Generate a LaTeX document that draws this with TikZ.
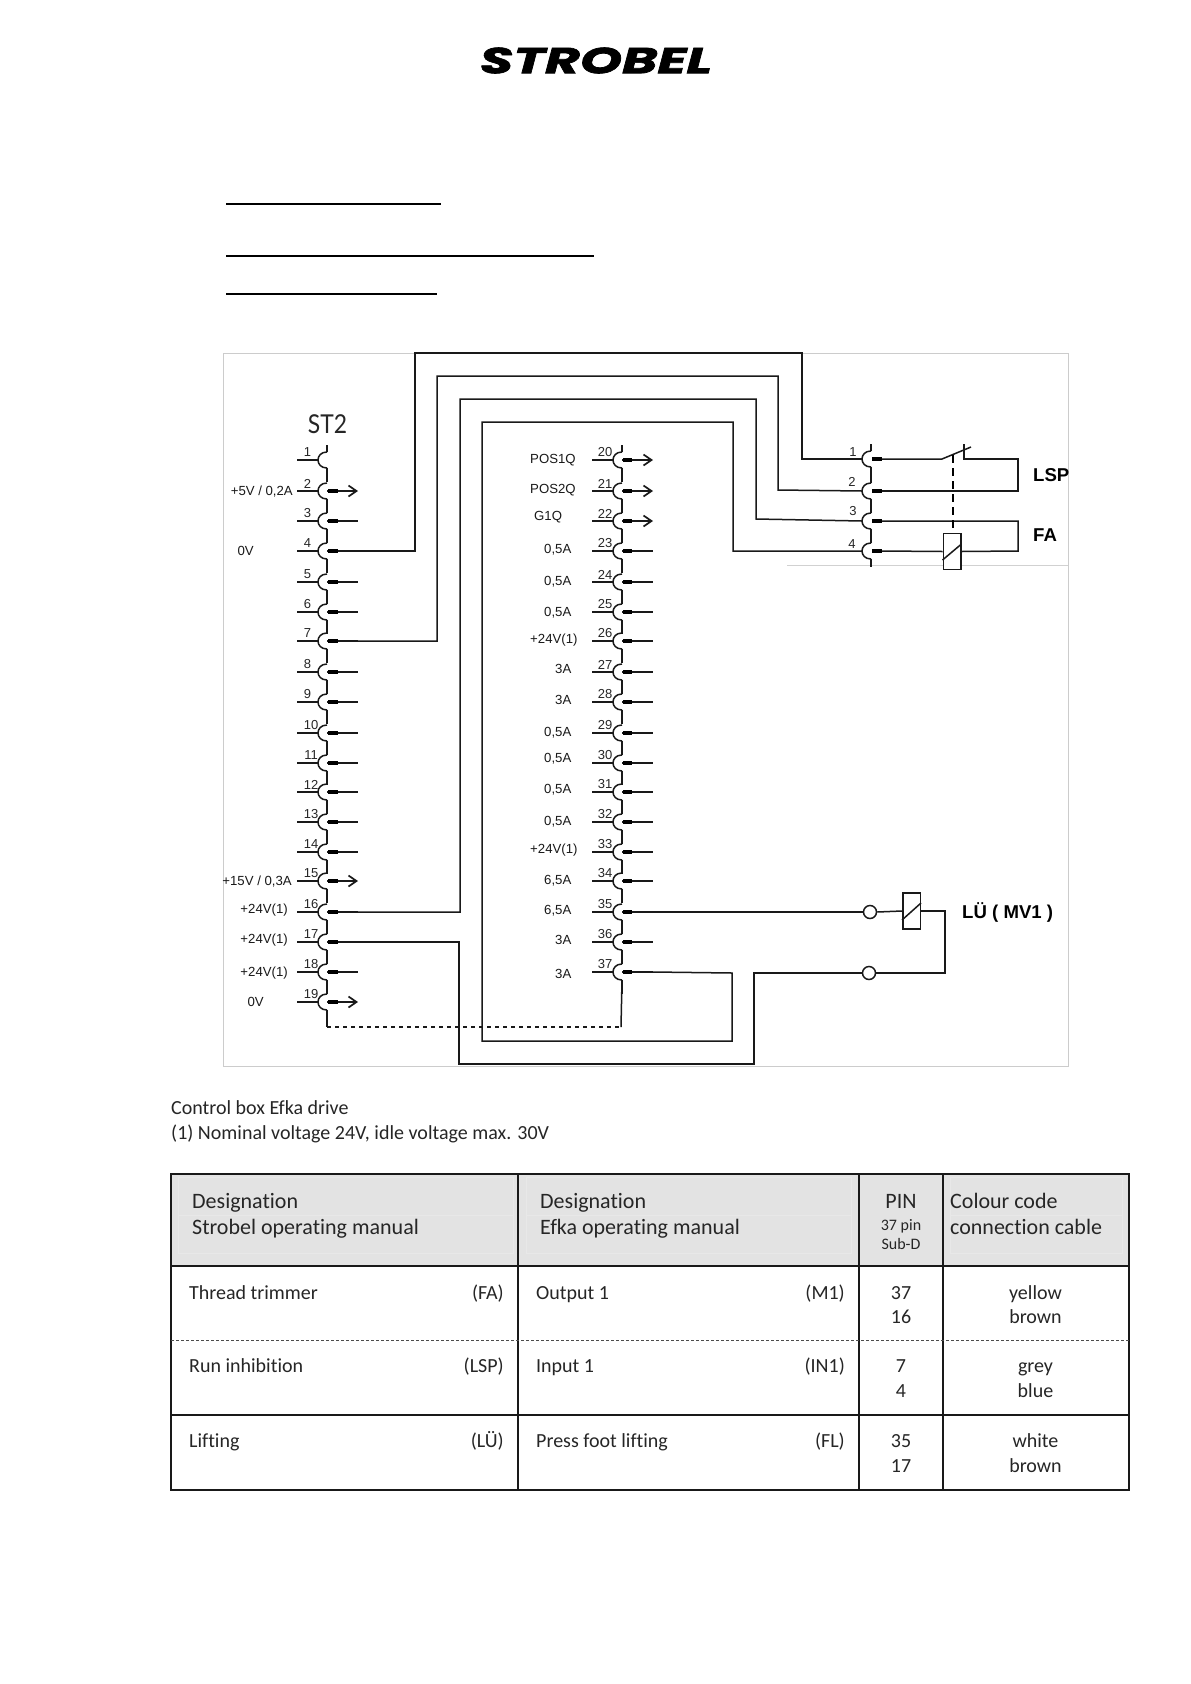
\documentclass[tikz,border=0pt]{standalone}
\usepackage{fontspec}
\usetikzlibrary{arrows.meta,calc}
\setmainfont{Liberation Sans}
\newfontfamily\calfont[Ligatures=NoCommon]{Carlito}
\newfontfamily\stfont[FakeStretch=0.88]{Lato}
\newfontfamily\logofont[BoldItalicFeatures={FakeBold=2,FakeStretch=1.49}]{Poppins}
\newcommand\fsz[1]{\fontsize{#1}{#1}\selectfont}
\tikzset{
  wire/.style={draw=black!90,line width=1.5pt},
  plug/.style={draw=black,line width=3.6pt},
  pinnum/.style={inner sep=0pt,font=\fsz{13}\color{black!85}},
  lab/.style={inner sep=0pt,font=\fsz{13.2}\color{black!90}},
  blab/.style={inner sep=0pt,anchor=base west,font=\fsz{18.6}\bfseries},
  cal/.style={inner sep=0pt,anchor=base west,font=\calfont\fsz{20}\color{black!85}},
  calh/.style={cal,font=\calfont\fsz{22}\color{black!85}},
  cale/.style={cal,anchor=base east},
  calc/.style={cal,anchor=base},
  under/.style={draw=black,line width=1.4pt},
  tline/.style={draw=black!90,line width=2pt},
  ghost/.style={draw=black!9,line width=.7pt},
  coil/.style={draw=black!90,line width=1.5pt,minimum width=17.5pt,minimum height=36pt,inner sep=0pt,fill=white},
  term/.style={circle,draw=black!90,line width=1.5pt,minimum size=13pt,inner sep=0pt,fill=white},
  pics/pinarc/.style={code={
    \draw[wire] (0,-8) .. controls (-6,-8) and (-9,-4) .. (-9,0) .. controls (-9,4) and (-6,8) .. (0,8);
  }},
  pics/pinbase/.style={code={
    \draw[wire] (-30,0) -- (-9,0);
    \draw[wire] (0,-8) .. controls (-6,-8) and (-9,-4) .. (-9,0) .. controls (-9,4) and (-6,8) .. (0,8);
    \draw[wire] (0,8) -- (0,22);
  }},
}
\begin{document}
\begin{tikzpicture}[x=1pt,y=-1pt]
\useasboundingbox (0,0) rectangle (1191,1684);
\fill[white] (0,0) rectangle (1191,1684);

% logo and underlines
\node[inner sep=0pt,font=\logofont\bfseries\itshape\fsz{36}] (logo) at (596,60.5) {STROBEL};
\coordinate (u1a) at (226,204); \coordinate (u1b) at (441,204);
\coordinate (u2a) at (226,256); \coordinate (u2b) at (594,256);
\coordinate (u3a) at (226,294); \coordinate (u3b) at (437,294);
\draw[under] (u1a) -- (u1b);
\draw[under] (u2a) -- (u2b);
\draw[under] (u3a) -- (u3b);

% frame
\draw[draw=black!20,line width=1pt] (223,353) rectangle (1068,1066);
\draw[draw=black!18,line width=1pt] (787,565) -- (1068,565);

\node[inner sep=0pt,font=\stfont\fsz{26}\color{black!85}] (st2) at (327.5,424) {ST2};

% connectors
\foreach \n/\y in {1/460,2/491,3/521,4/551,5/582,6/612,7/641,8/672,9/702,10/733,11/763,12/792,13/822,14/852,15/881,16/912,17/942,18/972,19/1002}{
  \pic at (327,\y) {pinbase};
  \coordinate (L\n) at (327,\y);
  \coordinate (L\n-d) at (338,\y);
  \coordinate (L\n-e) at (358,\y);
}
\foreach \n/\y in {20/460,21/491,22/521,23/551,24/582,25/612,26/641,27/672,28/702,29/733,30/763,31/792,32/822,33/852,34/881,35/912,36/942,37/972}{
  \pic at (622,\y) {pinbase};
  \coordinate (M\n) at (622,\y);
  \coordinate (M\n-d) at (632,\y);
  \coordinate (M\n-e) at (653,\y);
}
\foreach \n in {3,4,5,6,7,8,9,10,11,12,13,14,16,17,18}{ \draw[wire] (L\n) -- (L\n-e); }
\foreach \n in {23,24,25,26,27,28,29,30,31,32,33,34,35,36,37}{ \draw[wire] (M\n) -- (M\n-e); }
\foreach \n in {2,15,19}{ \draw[wire,-{Straight Barb[length=8pt,width=11pt,line width=1.7pt]}] (L\n) -- (L\n-e); }
\foreach \n in {20,21,22}{ \draw[wire,-{Straight Barb[length=8pt,width=11pt,line width=1.7pt]}] (M\n) -- (M\n-e); }
\foreach \n in {2,3,...,19}{ \draw[plug] ($(L\n)+(1,0)$) -- (L\n-d); }
\foreach \n in {20,21,...,37}{ \draw[plug] ($(M\n)+(1,0)$) -- (M\n-d); }

\coordinate (Ltop) at (327,445); \coordinate (Ltopb) at (327,452);
\coordinate (Mtop) at (622,445); \coordinate (Mtopb) at (622,452);
\coordinate (Lend) at (327,1027); \coordinate (Mend) at (621,1027);
\draw[wire] (Ltop) -- (Ltopb);
\draw[wire] (Mtop) -- (Mtopb);
\draw[wire] (L19) ++(0,10) -- (Lend);
\draw[wire] (M37) ++(0,8) -- (Mend);
\draw[draw=black!90,line width=1.6pt,dash pattern=on 4pt off 4pt] (Lend) -- (Mend);

% pin numbers
\foreach \n/\y in {1/460,2/491,3/521,4/551,5/582,6/612,7/641,8/672,9/702}{
  \node[pinnum] (Ln\n) at (307.5,\y-7.5) {\n};
}
\foreach \n/\y in {10/733,11/763,12/792,13/822,14/852,15/881,16/912,17/942,18/972,19/1002}{
  \node[pinnum] (Ln\n) at (311,\y-7.5) {\n};
}
\foreach \n/\y in {20/460,21/491,22/521,23/551,24/582,25/612,26/641,27/672,28/702,29/733,30/763,31/792,32/822,33/852,34/881,35/912,36/942,37/972}{
  \node[pinnum] (Mn\n) at (605,\y-7.5) {\n};
}

% left labels
\node[lab,anchor=base east] (a1) at (293,495.7) {+5V / 0,2A};
\node[lab,anchor=base east] (a2) at (254,555.7) {0V};
\node[lab,anchor=base east] (a3) at (292,885.7) {+15V / 0,3A};
\node[lab,anchor=base east] (a4) at (288,913.7) {+24V(1)};
\node[lab,anchor=base east] (a5) at (288,943.7) {+24V(1)};
\node[lab,anchor=base east] (a6) at (288,976.7) {+24V(1)};
\node[lab,anchor=base east] (a7) at (264,1006.7) {0V};

% middle labels
\foreach \i/\t/\x/\y in {1/POS1Q/530/459,2/POS2Q/530/489,3/G1Q/534/516,4/{0,5A}/544/549,5/{0,5A}/544/581,6/{0,5A}/544/612,7/+24V(1)/530/639,8/3A/555/669,9/3A/555/700,10/{0,5A}/544/732,11/{0,5A}/544/758,12/{0,5A}/544/789,13/{0,5A}/544/821,14/+24V(1)/530/849,15/{6,5A}/544/880,16/{6,5A}/544/910,17/3A/555/940,18/3A/555/974}{
  \node[lab,anchor=base west] (b\i) at (\x,\y+4.7) {\t};
}

% right connector
\foreach \n/\y in {1/459,2/491,3/521,4/551}{
  \pic at (871,\y) {pinarc};
  \coordinate (R\n) at (871,\y);
  \coordinate (R\n-w) at (862,\y);
  \coordinate (R\n-e) at (882,\y);
  \draw[plug] ($(R\n)+(1,0)$) -- (R\n-e);
}
\draw[wire] (871,444) -- (871,451);
\draw[wire] (871,467) -- (871,483);
\draw[wire] (871,499) -- (871,513);
\draw[wire] (871,529) -- (871,543);
\draw[wire] (871,559) -- (871,567);
\node[pinnum] (Rn1) at (853,452) {1};
\node[pinnum] (Rn2) at (852,482) {2};
\node[pinnum] (Rn3) at (853,511) {3};
\node[pinnum] (Rn4) at (852,544) {4};

% harness wires
\draw[wire] (L4-e) -| (415,353) -| (802,459) -- (R1-w);
\draw[wire] (L7-e) -| (437,376) -| (778,490) -- (R2-w);
\draw[wire] (L16-e) -| (460,399) -| (756,519) -- (R3-w);
\draw[wire] (R4-w) -| (733,422) -| (482,1041) -| (732,973) -- (M37-e);

% switch + FA coil
\coordinate (sw1) at (942,459);
\coordinate (sw2) at (971,447);
\coordinate (sw3) at (964,444);
\coordinate (sw4) at (964,459);
\coordinate (corner1) at (1018,459);
\coordinate (corner2) at (1018,491);
\coordinate (corner3) at (1018,521);
\coordinate (corner4) at (1018,551);
\draw[wire] (R1-e) -- (sw1) -- (sw2);
\draw[wire] (sw3) -- (sw4) -- (corner1) -- (corner2) -- (R2-e);
\node[coil] (coilFA) at (952,551.5) {};
\draw[wire] ($(coilFA.west)+(0,8.5)$) -- ($(coilFA.east)+(0,-7.5)$);
\draw[wire] (R3-e) -- (corner3) -- (corner4) -- (coilFA.east);
\draw[wire] (R4-e) -- (coilFA.west);
\coordinate (lk1) at (953,455);
\draw[draw=black,line width=2pt,dash pattern=on 8pt off 5pt] (lk1) -- (coilFA.north -| lk1);
\node[blab] (lsp) at (1033,481.5) {LSP};
\node[blab] (fa) at (1033,541.5) {FA};

% LU circuit
\node[term] (c1) at (870,912) {};
\node[term] (c2) at (869,973) {};
\node[coil] (coilLU) at (911.5,911) {};
\draw[wire] ($(coilLU.west)+(0,9)$) -- ($(coilLU.east)+(0,-8)$);
\coordinate (lucorner) at (945,911);
\coordinate (lucorner2) at (945,973);
\draw[wire] (M35-e) -- (c1.west);
\draw[wire] (c1.east) -- (coilLU.west);
\draw[wire] (coilLU.east) -- (lucorner) -- (lucorner2) -- (c2.east);
\draw[wire] (L17-e) -| (459,1064) -| (754,973) -- (c2.west);
\node[blab] (lu) at (962,918.5) {LÜ ( MV1 )};

% caption
\node[cal] (cap1) at (171,1114) {Control box Efka drive};
\node[cal] (cap2) at (171,1139) {(1) Nominal voltage 24V, idle voltage max. 30V};

% table
\fill[black!11] (171,1174) rectangle (1129,1266);
\draw[ghost] (178,1177) rectangle (513,1253);
\draw[ghost] (178,1215) -- (513,1215);
\draw[ghost] (526,1177) rectangle (851,1253);
\draw[ghost] (526,1215) -- (851,1215);
\draw[ghost] (950,1177) rectangle (1122,1253);
\draw[ghost] (950,1215) -- (1122,1215);
\draw[tline] (171,1174) rectangle (1129,1490);
\draw[tline] (171,1266) -- (1129,1266);
\draw[tline] (171,1415) -- (1129,1415);
\draw[tline] (518,1174) -- (518,1490);
\draw[tline] (859,1174) -- (859,1490);
\draw[tline] (943,1174) -- (943,1490);
\draw[draw=black!70,line width=.9pt,dash pattern=on 3pt off 2pt] (171,1340) -- (1129,1340);

\node[calh] (h1) at (192,1208.5) {Designation};
\node[calh] (h2) at (192,1234.5) {Strobel operating manual};
\node[calh] (h3) at (540,1208.5) {Designation};
\node[calh] (h4) at (540,1234.5) {Efka operating manual};
\node[calh,anchor=base] (h5) at (901,1208.5) {PIN};
\node[calc,font=\calfont\fsz{16}\color{black!85}] (h6) at (901,1230) {37 pin};
\node[calc,font=\calfont\fsz{16}\color{black!85}] (h7) at (901,1249) {Sub-D};
\node[calh] (h8) at (950,1208.5) {Colour code};
\node[calh] (h9) at (950,1234.5) {connection cable};

\node[cal] (t1) at (189,1299.5) {Thread trimmer};
\node[cale] (t2) at (504,1299.5) {(FA)};
\node[cal] (t3) at (536,1299.5) {Output 1};
\node[cale] (t4) at (845,1299.5) {(M1)};
\node[calc] (t5) at (901,1299.5) {37};
\node[calc] (t6) at (901,1323.5) {16};
\node[calc] (t7) at (1035.5,1299.5) {yellow};
\node[calc] (t8) at (1035.5,1323.5) {brown};

\node[cal] (r1) at (189,1372.5) {Run inhibition};
\node[cale] (r2) at (504,1372.5) {(LSP)};
\node[cal] (r3) at (536,1372.5) {Input 1};
\node[cale] (r4) at (845,1372.5) {(IN1)};
\node[calc] (r5) at (901,1372.5) {7};
\node[calc] (r6) at (901,1397.5) {4};
\node[calc] (r7) at (1035.5,1372.5) {grey};
\node[calc] (r8) at (1035.5,1397.5) {blue};

\node[cal] (s1) at (189,1447.5) {Lifting};
\node[cale] (s2) at (504,1447.5) {(LÜ)};
\node[cal] (s3) at (536,1447.5) {Press foot lifting};
\node[cale] (s4) at (845,1447.5) {(FL)};
\node[calc] (s5) at (901,1447.5) {35};
\node[calc] (s6) at (901,1472.5) {17};
\node[calc] (s7) at (1035.5,1447.5) {white};
\node[calc] (s8) at (1035.5,1472.5) {brown};
\end{tikzpicture}
\end{document}
